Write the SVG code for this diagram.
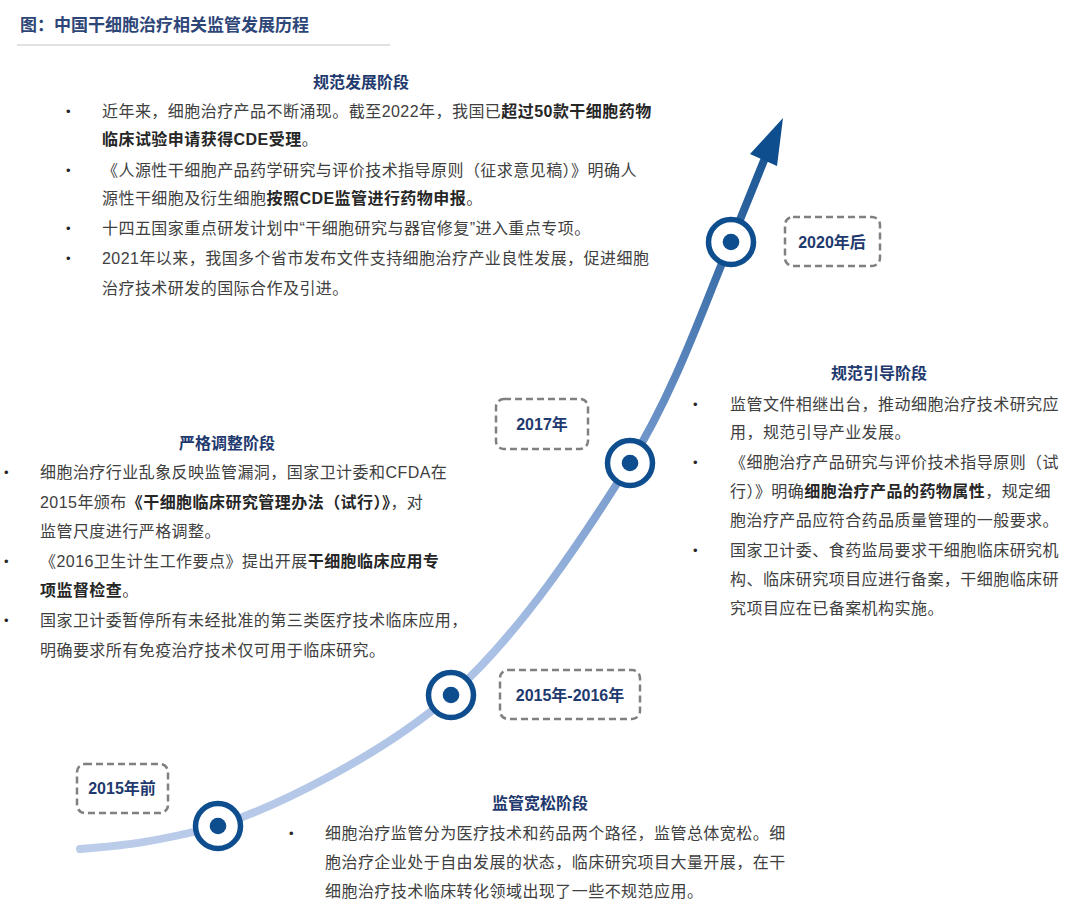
<svg xmlns="http://www.w3.org/2000/svg" width="1080" height="909" viewBox="0 0 1080 909">
<defs>
<linearGradient id="curveGrad" gradientUnits="userSpaceOnUse" x1="80" y1="849" x2="783" y2="118">
<stop offset="0" stop-color="#bccdea"/>
<stop offset="0.42" stop-color="#abc1e5"/>
<stop offset="0.68" stop-color="#6f95c9"/>
<stop offset="1" stop-color="#104e8d"/>
</linearGradient>
<style>
text{font-family:"Liberation Sans","Noto Sans CJK SC",sans-serif}
.title{font-size:17px;font-weight:bold;fill:#2e4677}
.head{font-size:16px;font-weight:bold;fill:#1f3a6e;text-anchor:middle}
.body{font-size:16px;fill:#404040;letter-spacing:0.45px}
.b{font-weight:bold;fill:#262626}
.bul{font-size:13px;fill:#262626}
.lbl{font-size:16px;font-weight:bold;fill:#1f3a6e;text-anchor:middle}
.box{fill:#ffffff;stroke:#808080;stroke-width:2.5;stroke-dasharray:7 4}
.ring{fill:#ffffff;stroke:#0e4d8e;stroke-width:5.5}
.dot{fill:#0e4d8e}
</style>
</defs>
<rect width="1080" height="909" fill="#ffffff"/>
<g id="title">
<text class="title" x="20" y="31">图：中国干细胞治疗相关监管发展历程</text>
<line x1="17" y1="45" x2="390" y2="45" stroke="#c4c4c4" stroke-width="1"/>
</g>
<g id="connectors">
<path d="M80,849 C110,846 140,846 218,826 C278,806 382,755 451,695 C520,634 583,538 630,463 C677,388 708,294 731,242 L765,158" fill="none" stroke="url(#curveGrad)" stroke-width="8" stroke-linecap="round"/>
<polygon points="783,118 750,154 777,166" fill="#0f4e8e"/>
</g>
<g id="node-2015before">
<rect class="box" x="77" y="764" width="91" height="49" rx="8"/>
<text class="lbl" x="122" y="794">2015年前</text>
<circle class="ring" cx="218" cy="826" r="22.5"/>
<circle class="dot" cx="218" cy="826" r="8.3"/>
</g>
<g id="node-2015-2016">
<rect class="box" x="500" y="670" width="140" height="49" rx="8"/>
<text class="lbl" x="570" y="701">2015年-2016年</text>
<circle class="ring" cx="451" cy="695" r="22.5"/>
<circle class="dot" cx="451" cy="695" r="8.3"/>
</g>
<g id="node-2017">
<rect class="box" x="496" y="399" width="92" height="50" rx="8"/>
<text class="lbl" x="542" y="430">2017年</text>
<circle class="ring" cx="630" cy="463" r="22.5"/>
<circle class="dot" cx="630" cy="463" r="8.3"/>
</g>
<g id="node-2020after">
<rect class="box" x="785" y="217" width="95" height="49" rx="8"/>
<text class="lbl" x="832" y="248">2020年后</text>
<circle class="ring" cx="731" cy="242" r="22.5"/>
<circle class="dot" cx="731" cy="242" r="8.3"/>
</g>
<g id="stage-standard-development">
<text class="head" x="361" y="88">规范发展阶段</text>
<text class="bul" x="66" y="116">•</text>
<text class="bul" x="66" y="175">•</text>
<text class="bul" x="66" y="233">•</text>
<text class="bul" x="66" y="263">•</text>
<text class="body" x="102" y="117">近年来，细胞治疗产品不断涌现。截至2022年，我国已<tspan class="b">超过50款干细胞药物</tspan></text>
<text class="body" x="102" y="145"><tspan class="b">临床试验申请获得CDE受理</tspan>。</text>
<text class="body" x="102" y="176">《人源性干细胞产品药学研究与评价技术指导原则（征求意见稿）》明确人</text>
<text class="body" x="102" y="204">源性干细胞及衍生细胞<tspan class="b">按照CDE监管进行药物申报</tspan>。</text>
<text class="body" x="102" y="234">十四五国家重点研发计划中“干细胞研究与器官修复”进入重点专项。</text>
<text class="body" x="102" y="264">2021年以来，我国多个省市发布文件支持细胞治疗产业良性发展，促进细胞</text>
<text class="body" x="102" y="294">治疗技术研发的国际合作及引进。</text>
</g>
<g id="stage-standard-guidance">
<text class="head" x="879" y="379">规范引导阶段</text>
<text class="bul" x="693" y="409">•</text>
<text class="bul" x="693" y="467">•</text>
<text class="bul" x="693" y="555">•</text>
<text class="body" x="730" y="410">监管文件相继出台，推动细胞治疗技术研究应</text>
<text class="body" x="730" y="438">用，规范引导产业发展。</text>
<text class="body" x="730" y="468">《细胞治疗产品研究与评价技术指导原则（试</text>
<text class="body" x="730" y="497">行）》明确<tspan class="b">细胞治疗产品的药物属性</tspan>，规定细</text>
<text class="body" x="730" y="526">胞治疗产品应符合药品质量管理的一般要求。</text>
<text class="body" x="730" y="556">国家卫计委、食药监局要求干细胞临床研究机</text>
<text class="body" x="730" y="585">构、临床研究项目应进行备案，干细胞临床研</text>
<text class="body" x="730" y="614">究项目应在已备案机构实施。</text>
</g>
<g id="stage-strict-adjustment">
<text class="head" x="227" y="449">严格调整阶段</text>
<text class="bul" x="4" y="477">•</text>
<text class="bul" x="4" y="566">•</text>
<text class="bul" x="4" y="625">•</text>
<text class="body" x="40" y="478">细胞治疗行业乱象反映监管漏洞，国家卫计委和CFDA在</text>
<text class="body" x="40" y="508">2015年颁布<tspan class="b">《干细胞临床研究管理办法（试行）》</tspan>，对</text>
<text class="body" x="40" y="537">监管尺度进行严格调整。</text>
<text class="body" x="40" y="567">《2016卫生计生工作要点》提出开展<tspan class="b">干细胞临床应用专</tspan></text>
<text class="body" x="40" y="596"><tspan class="b">项监督检查</tspan>。</text>
<text class="body" x="40" y="626">国家卫计委暂停所有未经批准的第三类医疗技术临床应用，</text>
<text class="body" x="40" y="656">明确要求所有免疫治疗技术仅可用于临床研究。</text>
</g>
<g id="stage-loose-regulation">
<text class="head" x="540" y="809">监管宽松阶段</text>
<text class="bul" x="289" y="838">•</text>
<text class="body" x="325" y="839">细胞治疗监管分为医疗技术和药品两个路径，监管总体宽松。细</text>
<text class="body" x="325" y="868">胞治疗企业处于自由发展的状态，临床研究项目大量开展，在干</text>
<text class="body" x="325" y="897">细胞治疗技术临床转化领域出现了一些不规范应用。</text>
</g>
</svg>
